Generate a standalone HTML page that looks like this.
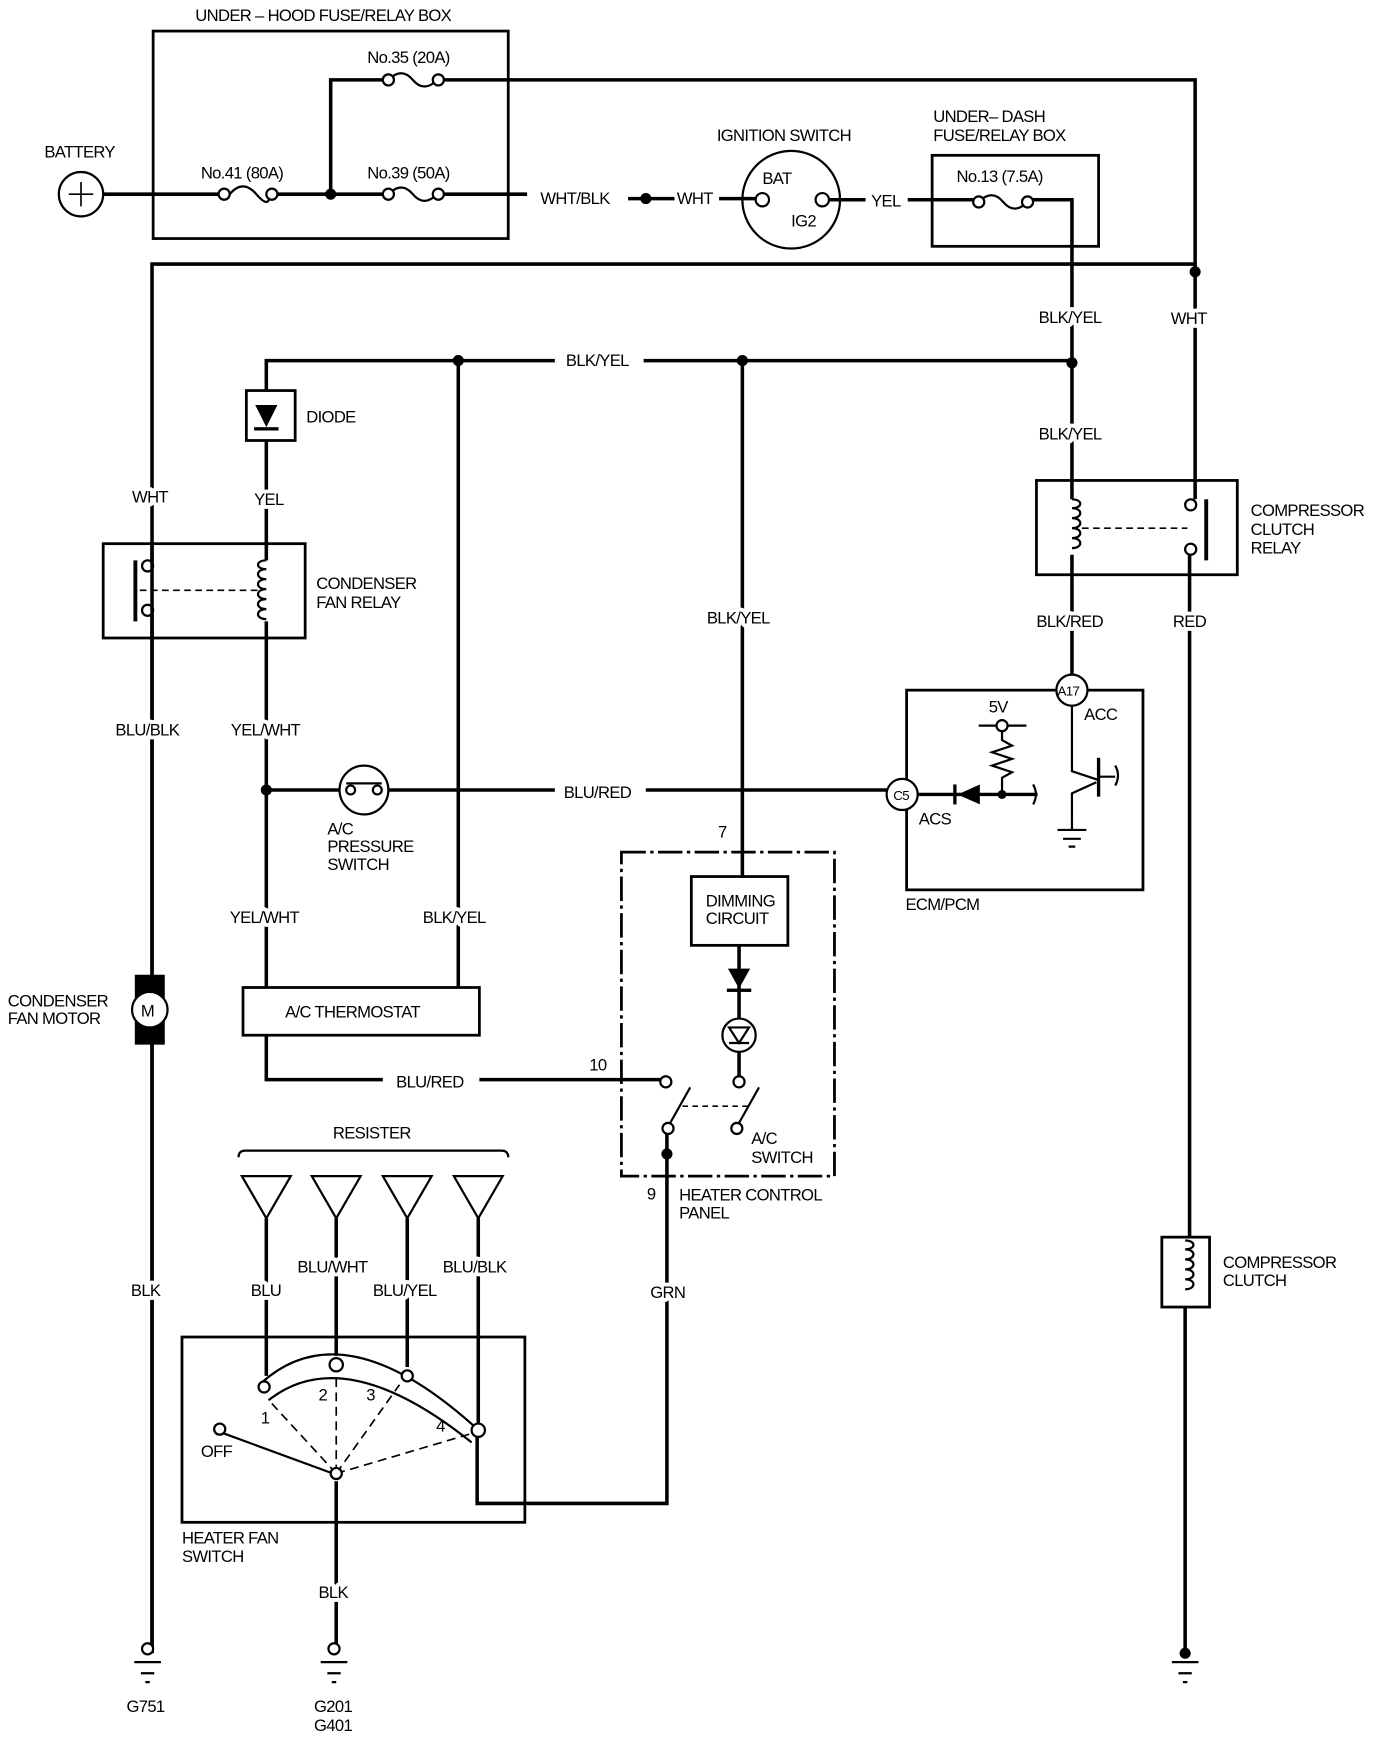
<!DOCTYPE html>
<html><head><meta charset="utf-8"><style>
html,body{margin:0;padding:0;background:#fff}
svg{display:block}
text{font-family:"Liberation Sans",sans-serif;font-size:15px;fill:#000;letter-spacing:-0.6px;stroke:#fff;stroke-width:7px;paint-order:stroke;stroke-linejoin:round}
</style></head><body>
<svg width="1376" height="1742" viewBox="0 0 1240 1570" preserveAspectRatio="none" xmlns="http://www.w3.org/2000/svg">
<g fill="none" stroke="#000" stroke-width="3.2">
<rect x="138" y="28" width="320" height="187" stroke-width="2.5"/>
<circle cx="73" cy="175" r="20" stroke-width="2"/>
<path d="M62 175h22M73 164v22" stroke-width="1.5"/>
<path d="M93 175H197M250 175H345M400 175H475"/>
<path d="M298 175V72H345M400 72H1077V433"/>
<path d="M566 179H608M648 179H683"/>
<circle cx="713" cy="180" r="44" stroke-width="2"/>
<path d="M746 180H780M818 180H877M930 180H966V433"/>
<rect x="840" y="140" width="150" height="82" stroke-width="2.5"/>
<path d="M137 1490V238H1077"/>
<path d="M240 352V325H500M580 325H966"/>
<path d="M413 325V890M669 325V790"/>
<path d="M240 397V490"/>
<rect x="93" y="490" width="182" height="85" stroke-width="2.5"/>
<path d="M137 490V508M137 553V880M137 940V1490"/>
<path d="M240 490V505M240 560V890"/>
<path d="M966 518V608M1072 518V1115"/>
<path d="M240 712H306M350 712H500M582 712H799"/>
<path d="M240 933V973H345M432 973H596"/>
<path d="M601 1021V1355H430V1285"/>
<rect x="934" y="433" width="181" height="85" stroke-width="2.5"/>
<path d="M966 433V450M966 500V518M1077 433V450M1072 500V518"/>
<rect x="817" y="622" width="213" height="180" stroke-width="2.5"/>
<rect x="164" y="1205" width="309" height="167" stroke-width="2.5"/>
<path d="M240 1098V1240M303 1098V1222M367 1098V1232M431 1098V1283"/>
<path d="M303 1335V1490"/>
<path d="M1068 1178V1490"/>
<rect x="219" y="890" width="213" height="43" stroke-width="2.5"/>
<rect x="623" y="790" width="87" height="62" stroke-width="2.5"/>
<path d="M666 852V918M666 948V970"/>
<rect x="1047" y="1115" width="43" height="63" stroke-width="2.5"/>
</g>
<g fill="none" stroke="#000" stroke-width="2">
<path d="M207 175q12 -14 24 0q12 14 12 0"/>
<circle cx="202" cy="175" r="5" fill="#fff"/><circle cx="245" cy="175" r="5" fill="#fff"/>
<path d="M350 175q12 -12 22 0q10 12 22 0"/><circle cx="350" cy="175" r="5" fill="#fff"/><circle cx="395" cy="175" r="5" fill="#fff"/>
<path d="M350 72q12 -12 22 0q10 12 22 0"/><circle cx="350" cy="72" r="5" fill="#fff"/><circle cx="395" cy="72" r="5" fill="#fff"/>
<path d="M882 182q12 -12 22 0q10 12 22 0"/><circle cx="882" cy="182" r="5" fill="#fff"/><circle cx="926" cy="182" r="5" fill="#fff"/>
<circle cx="687" cy="180" r="6" fill="#fff"/><circle cx="741" cy="180" r="6" fill="#fff"/>
<rect x="222" y="352" width="44" height="45" stroke-width="2.5"/>
<circle cx="133" cy="510" r="5"/><circle cx="133" cy="550" r="5"/>
<path d="M122 505V560" stroke-width="3.5"/>
<path d="M126 532H232" stroke-dasharray="6 4" stroke-width="1.5"/>
<path d="M240 505c-10 0-10 8 0 8c-10 0-10 9 0 9c-10 0-10 9 0 9c-10 0-10 9 0 9c-10 0-10 9 0 9c-10 0-10 9 0 9"/>
<circle cx="1073" cy="455" r="5"/><circle cx="1073" cy="495" r="5"/>
<path d="M1087 450V505" stroke-width="3.5"/>
<path d="M975 476H1070" stroke-dasharray="6 4" stroke-width="1.5"/>
<path d="M966 450c10 0 10 8 0 8c10 0 10 9 0 9c10 0 10 9 0 9c10 0 10 9 0 9c10 0 10 9 0 9"/>
<circle cx="328" cy="712" r="22"/>
<circle cx="316" cy="712" r="4"/><circle cx="340" cy="712" r="4"/>
<path d="M312 706h32"/>
<circle cx="966" cy="622" r="14" fill="#fff"/>
<circle cx="813" cy="716" r="14" fill="#fff"/>
<path d="M827 716H935" stroke-width="3"/>
<path d="M931 707q5 9 0 18"/>
<path d="M882 654H925"/><circle cx="903" cy="654" r="5" fill="#fff"/>
<path d="M903 659v8l9 5l-18 6l18 6l-18 6l18 6l-9 5v14"/>
<path d="M966 636V695L990 703M966 740V715L988 705"/>
<path d="M990 683V718" stroke-width="3"/>
<path d="M990 700H1005M1005 690q5 9 0 18"/>
<path d="M966 740V748M953 748h26M958 756h16M963 763h6"/>
<rect x="560" y="768" width="192" height="292" stroke-dasharray="22 4 3 4" stroke-width="2.5"/>
<circle cx="666" cy="933" r="15"/>
<path d="M657 926h18l-9 14z"/><path d="M657 940h18"/>
<circle cx="600" cy="975" r="5"/><circle cx="666" cy="975" r="5"/>
<circle cx="602" cy="1017" r="5"/><circle cx="664" cy="1017" r="5"/>
<path d="M604 1012L622 980M666 1012L684 980"/>
<path d="M615 997H675" stroke-dasharray="5 4" stroke-width="1.5"/>
<rect x="123" y="880" width="24" height="60" stroke-width="3" fill="#000"/>
<circle cx="135" cy="910" r="16" fill="#fff" stroke-width="2"/>
<path d="M215 1043q0 -6 6 -6H452q6 0 6 6"/>
<path d="M218 1060h44l-22 38zM281 1060h44l-22 38zM345 1060h44l-22 38zM409 1060h44l-22 38z"/>
<path d="M236 1246Q310 1180 428 1286"/>
<path d="M242 1262Q310 1208 425 1300"/>
<circle cx="238" cy="1250" r="5" fill="#fff"/><circle cx="303" cy="1230" r="6" fill="#fff"/>
<circle cx="367" cy="1240" r="5" fill="#fff"/><circle cx="431" cy="1289" r="6" fill="#fff"/>
<circle cx="198" cy="1288" r="5" fill="#fff"/>
<path d="M202 1292L300 1328"/>
<path d="M303 1328L245 1265M303 1328L303 1238M303 1328L360 1248M303 1328L425 1292" stroke-dasharray="8 5" stroke-width="1.5"/>
<circle cx="303" cy="1328" r="5" fill="#fff"/>
<path d="M1068 1118c10 0 10 8 0 8c10 0 10 9 0 9c10 0 10 9 0 9c10 0 10 9 0 9c10 0 10 9 0 9"/>
<path d="M121 1498h24M127 1508h12M131 1516h4"/>
<path d="M289 1498h24M295 1508h12M299 1516h4"/>
<path d="M1056 1498h24M1062 1508h12M1066 1516h4"/>
<circle cx="133" cy="1486" r="5" fill="#fff"/><circle cx="301" cy="1486" r="5" fill="#fff"/>
</g>
<g fill="#000">
<circle cx="298" cy="175" r="5"/><circle cx="582" cy="179" r="5"/>
<circle cx="1077" cy="245" r="5"/><circle cx="413" cy="325" r="5"/><circle cx="669" cy="325" r="5"/><circle cx="966" cy="327" r="5"/>
<circle cx="240" cy="712" r="5"/><circle cx="601" cy="1040" r="5"/><circle cx="903" cy="716" r="4"/>
<path d="M230 365h20l-10 20z"/><rect x="229" y="385" width="22" height="3"/>
<path d="M883 707v18l-20 -9z"/><rect x="859" y="707" width="3" height="18"/>
<path d="M656 873h20l-10 18z"/><rect x="655" y="891" width="22" height="3"/>
<circle cx="1068" cy="1490" r="5"/>
</g>
<text x="176" y="19">UNDER – HOOD FUSE/RELAY BOX</text>
<text x="331" y="57">No.35 (20A)</text>
<text x="40" y="142">BATTERY</text>
<text x="181" y="161">No.41 (80A)</text>
<text x="331" y="161">No.39 (50A)</text>
<text x="487" y="184">WHT/BLK</text>
<text x="610" y="184">WHT</text>
<text x="646" y="127">IGNITION SWITCH</text>
<text x="687" y="166">BAT</text>
<text x="713" y="204">IG2</text>
<text x="785" y="186">YEL</text>
<text x="841" y="110">UNDER– DASH</text>
<text x="841" y="127">FUSE/RELAY BOX</text>
<text x="862" y="164">No.13 (7.5A)</text>
<text x="936" y="291">BLK/YEL</text>
<text x="1055" y="292">WHT</text>
<text x="510" y="330">BLK/YEL</text>
<text x="276" y="381">DIODE</text>
<text x="936" y="396">BLK/YEL</text>
<text x="119" y="453">WHT</text>
<text x="229" y="455">YEL</text>
<text x="1127" y="465">COMPRESSOR</text>
<text x="1127" y="482">CLUTCH</text>
<text x="1127" y="499">RELAY</text>
<text x="285" y="531">CONDENSER</text>
<text x="285" y="548">FAN RELAY</text>
<text x="637" y="562">BLK/YEL</text>
<text x="934" y="565">BLK/RED</text>
<text x="1057" y="565">RED</text>
<text x="891" y="642">5V</text>
<text x="953" y="627" style="font-size:12px;stroke:none">A17</text>
<text x="977" y="649">ACC</text>
<text x="104" y="663">BLU/BLK</text>
<text x="208" y="663">YEL/WHT</text>
<text x="508" y="719">BLU/RED</text>
<text x="805" y="721" style="font-size:12px;stroke:none">C5</text>
<text x="828" y="743">ACS</text>
<text x="295" y="752">A/C</text>
<text x="295" y="768">PRESSURE</text>
<text x="295" y="784">SWITCH</text>
<text x="647" y="755">7</text>
<text x="636" y="817">DIMMING</text>
<text x="636" y="833">CIRCUIT</text>
<text x="816" y="820">ECM/PCM</text>
<text x="207" y="832">YEL/WHT</text>
<text x="381" y="832">BLK/YEL</text>
<text x="7" y="907">CONDENSER</text>
<text x="7" y="923">FAN MOTOR</text>
<text x="127" y="916" style="stroke:none">M</text>
<text x="257" y="917">A/C THERMOSTAT</text>
<text x="531" y="965">10</text>
<text x="357" y="980">BLU/RED</text>
<text x="300" y="1026">RESISTER</text>
<text x="677" y="1031">A/C</text>
<text x="677" y="1048">SWITCH</text>
<text x="583" y="1081">9</text>
<text x="612" y="1082">HEATER CONTROL</text>
<text x="612" y="1098">PANEL</text>
<text x="1102" y="1143">COMPRESSOR</text>
<text x="1102" y="1159">CLUTCH</text>
<text x="268" y="1147">BLU/WHT</text>
<text x="399" y="1147">BLU/BLK</text>
<text x="118" y="1168">BLK</text>
<text x="226" y="1168">BLU</text>
<text x="336" y="1168">BLU/YEL</text>
<text x="586" y="1170">GRN</text>
<text x="235" y="1283" style="stroke:none">1</text>
<text x="287" y="1262" style="stroke:none">2</text>
<text x="330" y="1262" style="stroke:none">3</text>
<text x="393" y="1290" style="stroke:none">4</text>
<text x="181" y="1313">OFF</text>
<text x="164" y="1391">HEATER FAN</text>
<text x="164" y="1408">SWITCH</text>
<text x="287" y="1440">BLK</text>
<text x="114" y="1543">G751</text>
<text x="283" y="1543">G201</text>
<text x="283" y="1560">G401</text>
</svg>
</body></html>
